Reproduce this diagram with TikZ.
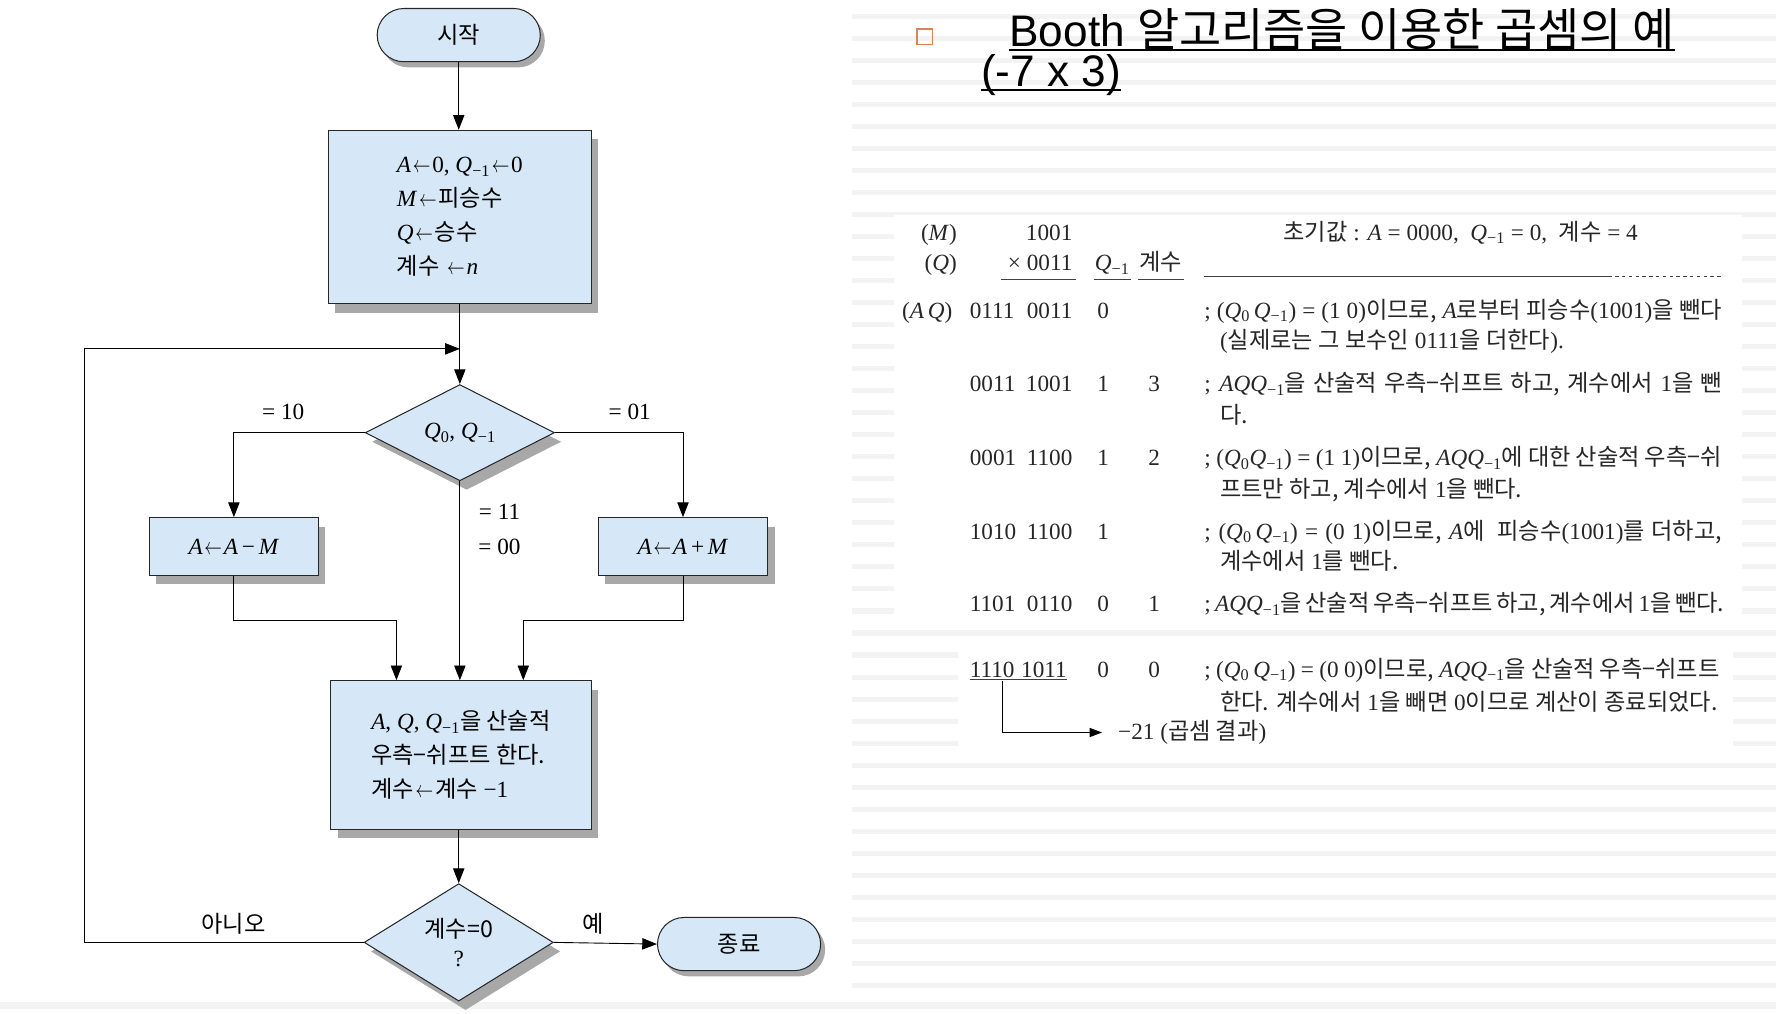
\documentclass[tikz,border=0pt]{standalone}
\usepackage{fontspec}
\usepackage{graphicx}
\setmainfont{Liberation Serif}
\newfontfamily\kr{Noto Sans CJK KR}
\newfontfamily\titlesans{Liberation Sans}
\usetikzlibrary{shapes.geometric,shadows,arrows.meta,positioning}

\definecolor{boxblue}{RGB}{214,232,247}
\definecolor{shadowgray}{RGB}{168,168,168}
\definecolor{stripegray}{RGB}{243,243,243}
\definecolor{bulletorange}{RGB}{214,132,88}

\newcommand{\hg}[1]{{\kr #1}}
\newcommand{\qm}{\textit{Q}\textsubscript{−1}}
\newcommand{\qz}{\textit{Q}\textsubscript{0}}
\newcommand{\getsto}{\kern1.5pt\scalebox{0.75}[1]{$\leftarrow$}\kern1.5pt}
\newcommand{\flowfont}{\fontsize{20.5}{30}\selectfont}
\newcommand{\tabfont}{\fontsize{20.5}{27}\selectfont}

\tikzset{
  flowbox/.style={draw=black!85, fill=boxblue, line width=0.9pt},
  boxshadow/.style={drop shadow={shadow xshift=6pt, shadow yshift=-8pt, fill=shadowgray, opacity=1}},
  terminal/.style={flowbox, drop shadow={shadow xshift=4pt, shadow yshift=-5pt, fill=shadowgray, opacity=1},
    rounded corners=23.5pt, minimum width=144pt, minimum height=47pt, font=\flowfont},
  procbox/.style={flowbox, boxshadow, align=left, font=\flowfont},
  decision/.style={flowbox, boxshadow, diamond, minimum width=167pt, minimum height=85pt,
    inner sep=0pt, align=center, font=\flowfont},
  flowarrow/.style={-{Triangle[length=13pt,width=10pt]}, line width=0.8pt},
  flowlabel/.style={font=\flowfont, inner sep=0pt},
  cell/.style={anchor=base, inner sep=0pt, font=\tabfont, text=black!85},
  note/.style={anchor=base west, inner sep=0pt, font=\tabfont, text=black!85},
  tabrule/.style={line width=0.9pt, draw=black!75},
}

\begin{document}
\begin{tikzpicture}[x=1pt, y=-1pt]
\useasboundingbox (0,0) rectangle (1568,895);

% striped slide background on the right
\foreach \i in {0,...,44}
  \fill[stripegray] (752,{12+\i*19.45}) rectangle (1568,{16.5+\i*19.45});
\fill[stripegray] (0,885) rectangle (1568,891);
\fill[white] (789,190) rectangle (1538,555);
\fill[white] (846,571) rectangle (1530,660);

% flowchart
\node[terminal] (start) at (405,31) {\hg{시작}};
\node[procbox, minimum width=232pt, minimum height=153pt] (init) at (406,191.5)
  {\textit{A}\getsto0, \qm\getsto0\\ \textit{M}\getsto\hg{피승수}\\ \textit{Q}\getsto\hg{승수}\\ \hg{계수} \getsto\textit{n}};
\coordinate (loopin) at (406,308);
\node[decision] (test) at (406,382) {\qz, \qm};
\node[procbox, minimum width=149pt, minimum height=51pt] (sub) at (206.5,482.5)
  {\textit{A}\getsto\textit{A}\,−\,\textit{M}};
\node[procbox, minimum width=150pt, minimum height=51pt] (add) at (603,482.5)
  {\textit{A}\getsto\textit{A}\,+\,\textit{M}};
\node[procbox, minimum width=230pt, minimum height=131pt] (shift) at (407,666.5)
  {\textit{A}, \textit{Q}, \qm\hg{을 산술적}\\ \hg{우측−쉬프트 한다.}\\ \hg{계수}\getsto\hg{계수} −1};
\node[decision] (done) at (405,832) {\hg{계수=0}\\[-4pt]?};
\node[terminal] (stop) at (652.5,833.5) {\hg{종료}};

\coordinate (mergeL) at (350,548);
\coordinate (mergeR) at (462,548);
\coordinate (loopcorner) at (75,832);

\draw[flowarrow] (start.south) -- (start.south |- init.north);
\draw[flowarrow] (init) -- (test);
\draw[flowarrow] (test.west) -| (sub.north);
\draw[flowarrow] (test.east) -| (add.north);
\draw[flowarrow] (test) -- (test.south |- shift.north);
\draw[flowarrow] (sub.south) |- (mergeL) -- (mergeL |- shift.north);
\draw[flowarrow] (add.south) |- (mergeR) -- (mergeR |- shift.north);
\draw[flowarrow] (shift.south -| done.north) -- (done.north);
\draw[flowarrow] (done.east) -- (stop.west);
\draw[flowarrow] (done.west) -- (loopcorner) |- (loopin);

\node[flowlabel] (l10) at (250,364) {= 10};
\node[flowlabel] (l01) at (556,364) {= 01};
\node[flowlabel] (l11) at (441,452) {= 11};
\node[flowlabel] (l00) at (441,483) {= 00};
\node[flowlabel] (lno) at (206,816) {\hg{아니오}};
\node[flowlabel] (lyes) at (524,816) {\hg{예}};

% title
\node[draw=bulletorange, line width=1.3pt, minimum size=14pt, inner sep=0pt] (bullet) at (816.5,32.5) {};
\node[anchor=base west, inner sep=0pt, font=\titlesans\fontsize{39}{45}\selectfont] (title1) at (891,41)
  {Booth {\fontsize{40.5}{45}\selectfont\hg{알고리즘을 이용한 곱셈의 예}}};
\node[anchor=base west, inner sep=0pt, font=\titlesans\fontsize{39}{45}\selectfont] (title2) at (866,76.5)
  {(-7 x 3)};
\draw[line width=2.2pt] ([yshift=-3pt]title1.base west) -- ([yshift=-3pt]title1.base east);
\draw[line width=2.2pt] ([yshift=-3pt]title2.base west) -- ([yshift=-3pt]title2.base east);

% table
\node[cell, anchor=base east] (mlab) at (845,212) {(\textit{M})};
\node[cell, anchor=base east] (mval) at (947,212) {1001};
\node[note] (initval) at (1133,212) {\hg{초기값} : \textit{A} = 0000, \ \qm\ = 0, \ \hg{계수} = 4};

\node[cell, anchor=base east] (qlab) at (845,239) {(\textit{Q})};
\node[cell, anchor=base east] (qval) at (947,239) {× 0011};
\node[cell] (qmhead) at (982,239) {\qm};
\node[cell] (cnthead) at (1025,239) {\hg{계수}};
\draw[tabrule] ([xshift=-6pt,yshift=-8pt]qval.base west) -- ([xshift=3pt,yshift=-8pt]qval.base east);
\draw[tabrule] ([xshift=-1pt,yshift=-8pt]qmhead.base west) -- ([xshift=1pt,yshift=-8pt]qmhead.base east);
\draw[tabrule] ([xshift=-1pt,yshift=-8pt]cnthead.base west) -- ([xshift=1pt,yshift=-8pt]cnthead.base east);
\coordinate (ruleA) at (1063,244);
\coordinate (ruleB) at (1420,244);
\coordinate (ruleC) at (1522,244);
\draw[tabrule] (ruleA) -- (ruleB);
\draw[tabrule, dashed] (ruleB) -- (ruleC);

\node[cell, anchor=base east] (aqlab) at (841,281) {(\textit{A\,Q})};
\node[cell, anchor=base west] (a1) at (856,281) {0111};
\node[cell, anchor=base east] (q1) at (947,281) {0011};
\node[cell] (qm1) at (974,281) {0};
\node[note] (n1) at (1063,281) {\makebox[457pt][s]{; (\qz\,\qm) = (1 0)\hg{이므로,} \textit{A}\hg{로부터 피승수}(1001)\hg{을 뺀다}}};
\node[note] (n1b) at (1077,308) {(\hg{실제로는 그 보수인} 0111\hg{을 더한다}).};

\node[cell, anchor=base west] (a2) at (856,346) {0011};
\node[cell, anchor=base east] (q2) at (947,346) {1001};
\node[cell] (qm2) at (974,346) {1};
\node[cell] (c2) at (1019,346) {3};
\node[note] (n2) at (1063,346) {\makebox[457pt][s]{; \textit{AQ}\qm\hg{을 산술적 우측−쉬프트 하고, 계수에서} 1\hg{을 뺀}}};
\node[note] (n2b) at (1077,374) {\hg{다.}};

\node[cell, anchor=base west] (a3) at (856,411) {0001};
\node[cell, anchor=base east] (q3) at (947,411) {1100};
\node[cell] (qm3) at (974,411) {1};
\node[cell] (c3) at (1019,411) {2};
\node[note] (n3) at (1063,411) {\makebox[457pt][s]{; (\qz\qm) = (1 1)\hg{이므로,} \textit{AQ}\qm\hg{에 대한 산술적 우측−쉬}}};
\node[note] (n3b) at (1077,439) {\hg{프트만 하고, 계수에서} 1\hg{을 뺀다.}};

\node[cell, anchor=base west] (a4) at (856,476) {1010};
\node[cell, anchor=base east] (q4) at (947,476) {1100};
\node[cell] (qm4) at (974,476) {1};
\node[note] (n4) at (1063,476) {\makebox[457pt][s]{; (\qz\,\qm) = (0 1)\hg{이므로,} \textit{A}\hg{에 \ 피승수}(1001)\hg{를 더하고,}}};
\node[note] (n4b) at (1077,503) {\hg{계수에서} 1\hg{를 뺀다.}};

\node[cell, anchor=base west] (a5) at (856,540) {1101};
\node[cell, anchor=base east] (q5) at (947,540) {0110};
\node[cell] (qm5) at (974,540) {0};
\node[cell] (c5) at (1019,540) {1};
\node[note] (n5) at (1063,540) {\makebox[459pt][s]{; \textit{AQ}\qm\hg{을 산술적 우측−쉬프트 하고, 계수에서} 1\hg{을 뺀다.}}};

\node[cell, anchor=base west] (a6) at (856,598) {1110};
\node[cell, anchor=base east] (q6) at (942,598) {1011};
\node[cell] (qm6) at (974,598) {0};
\node[cell] (c6) at (1019,598) {0};
\node[note] (n6) at (1063,598) {\makebox[455pt][s]{; (\qz\,\qm) = (0 0)\hg{이므로,} \textit{AQ}\qm\hg{을 산술적 우측−쉬프트}}};
\node[note] (n6b) at (1077,627) {\hg{한다. 계수에서} 1\hg{을 빼면} 0\hg{이므로 계산이 종료되었다.}};
\draw[tabrule] ([yshift=-2pt]a6.base west) -- ([yshift=-2pt]q6.base east);

\coordinate (resdrop) at (885,601);
\node[note] (result) at (987,653) {−21 (\hg{곱셈 결과})};
\draw[-{Triangle[length=11pt,width=8pt]}, line width=0.9pt, shorten >=14pt] (resdrop) |- (result.west);

\end{tikzpicture}
\end{document}
